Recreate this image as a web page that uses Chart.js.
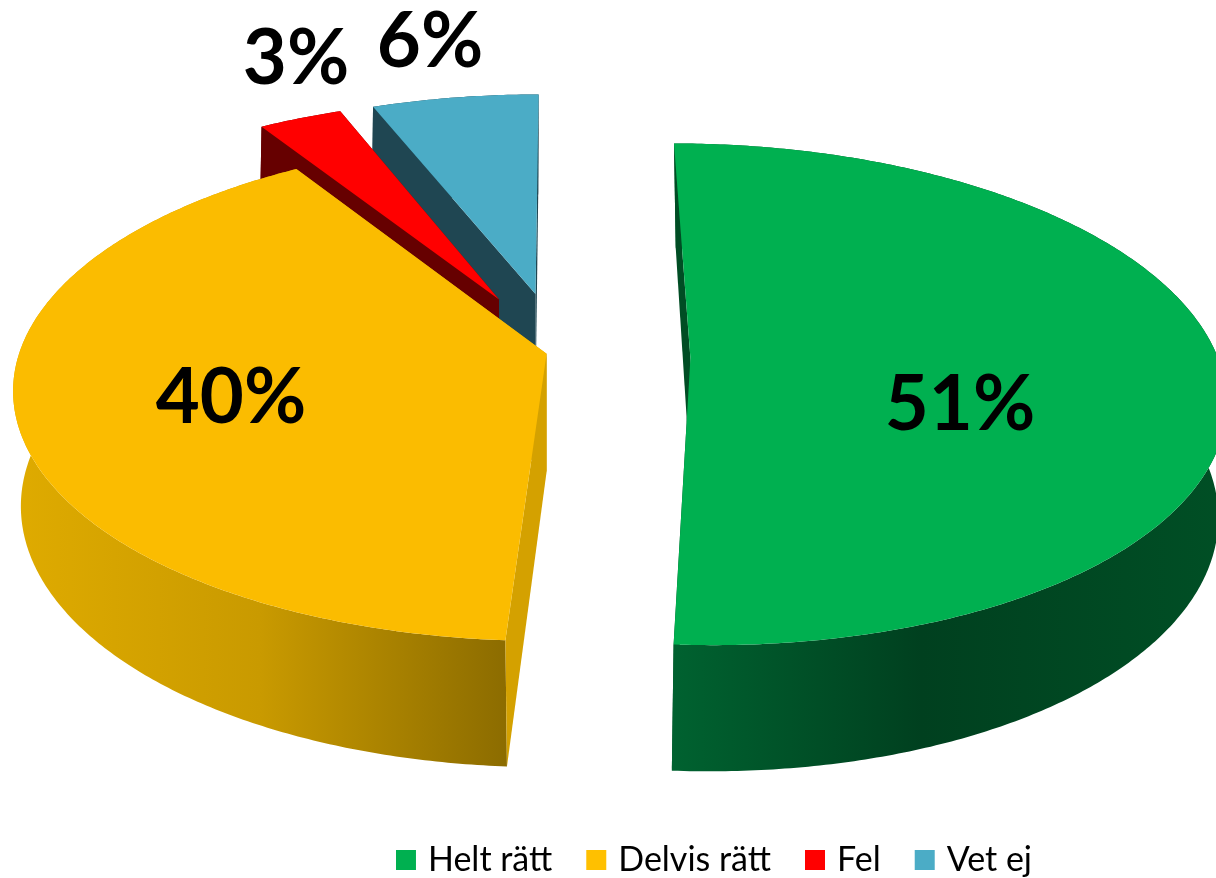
<!DOCTYPE html>
<html lang="sv">
<head>
<meta charset="utf-8">
<title>Helt rätt</title>
<script src="https://cdn.jsdelivr.net/npm/chart.js@4/dist/chart.umd.js"></script>
<style>html,body{margin:0;padding:0;background:#fff}canvas{display:block}</style>
</head>
<body>
<canvas id="c" width="1216" height="878"></canvas>
<script>
const categories = ['Helt rätt', 'Delvis rätt', 'Fel', 'Vet ej'];
const percentages = [51, 40, 3, 6];
const sliceColors = ['#00B050', '#FFC000', '#FF0000', '#4BACC6'];
const explode = [87, 10, 95, 95];

const pie3d = {
  cx: 561, cy: 356, rx: 527,
  top: {ry: 245, p: 0.145, sx: 1, dy: 0},
  bottom: {ry: 257, p: 0.128, sx: 0.988, dy: 118},
  lift: [0, -4, 0, 0],
  drawOrder: [3, 2, 1, 0],
  face: ['#00B050', '#FBBC00', '#FF0000', '#4BACC6'],
  cut: ['#004D24', '#D4A100', '#660000', '#1F4652'],
  rim: [
    [[0, '#006230'], [0.45, '#00401F'], [1, '#004F25']],
    [[0, '#DFAB00'], [0.5, '#C99A00'], [1, '#8C6C00']],
    [[0, '#660000'], [1, '#660000']],
    [[0, '#1F4652'], [1, '#1F4652']]
  ],
  labels: [[960, 405], [231, 398], [296, 59], [430, 42]],
  labelFont: 'bold 76px Lato'
};

function project(el, i, angle, radiusFrac, plane) {
  const mid = (el.startAngle + el.endAngle) / 2;
  const off = el.options.offset / el.outerRadius;
  const U = Math.cos(mid) * off + Math.cos(angle) * radiusFrac * plane.sx;
  const V = Math.sin(mid) * off + Math.sin(angle) * radiusFrac;
  const w = 1 / (1 - plane.p * V);
  return [pie3d.cx + pie3d.rx * U * w, pie3d.cy + pie3d.lift[i] + plane.dy + plane.ry * V * w];
}

function poly(ctx, pts, fill) {
  ctx.beginPath();
  pts.forEach((p, i) => i ? ctx.lineTo(p[0], p[1]) : ctx.moveTo(p[0], p[1]));
  ctx.closePath();
  ctx.fillStyle = fill;
  ctx.fill();
}

const pie3dPlugin = {
  id: 'pie3d',
  beforeDatasetsDraw(chart) {
    const ctx = chart.ctx;
    const arcs = chart.getDatasetMeta(0).data;
    ctx.save();
    pie3d.drawOrder.forEach(i => {
      const el = arcs[i];
      const a0 = el.startAngle, a1 = el.endAngle;
      const topArc = [], botArc = [];
      const n = Math.max(4, Math.ceil((a1 - a0) / 0.01));
      for (let k = 0; k <= n; k++) {
        const a = a0 + (a1 - a0) * k / n;
        topArc.push(project(el, i, a, 1, pie3d.top));
        botArc.push(project(el, i, a, 1, pie3d.bottom));
      }
      const apexT = project(el, i, a0, 0, pie3d.top);
      const apexB = project(el, i, a0, 0, pie3d.bottom);
      poly(ctx, [apexT, topArc[n], botArc[n], apexB], pie3d.cut[i]);
      const rimPts = topArc.concat(botArc.slice().reverse());
      const xs = rimPts.map(p => p[0]);
      const g = ctx.createLinearGradient(Math.min(...xs), 0, Math.max(...xs), 0);
      pie3d.rim[i].forEach(s => g.addColorStop(s[0], s[1]));
      poly(ctx, rimPts, g);
      poly(ctx, [apexT, topArc[0], botArc[0], apexB], pie3d.cut[i]);
      poly(ctx, [apexT].concat(topArc), pie3d.face[i]);
    });
    ctx.restore();
    return false;
  },
  afterDraw(chart) {
    const ctx = chart.ctx;
    ctx.save();
    ctx.font = pie3d.labelFont;
    ctx.fillStyle = '#000';
    ctx.textAlign = 'center';
    ctx.textBaseline = 'middle';
    percentages.forEach((v, i) => ctx.fillText(v + '%', pie3d.labels[i][0], pie3d.labels[i][1]));
    ctx.restore();
  }
};

new Chart(document.getElementById('c'), {
  type: 'pie',
  data: {
    labels: categories,
    datasets: [{data: percentages, backgroundColor: sliceColors, offset: explode, borderWidth: 0}]
  },
  options: {
    responsive: false,
    animation: false,
    rotation: 0,
    layout: {padding: {left: 217, bottom: -9}},
    plugins: {
      tooltip: {enabled: false},
      legend: {
        position: 'bottom',
        labels: {
          boxWidth: 10, boxHeight: 10, padding: 39, color: '#000',
          font: {family: 'Lato', size: 34},
          generateLabels(chart) {
            return Chart.overrides.pie.plugins.legend.labels.generateLabels(chart)
              .map(item => Object.assign(item, {lineWidth: 10, strokeStyle: item.fillStyle}));
          }
        }
      }
    }
  },
  plugins: [pie3dPlugin]
});
</script>
</body>
</html>
